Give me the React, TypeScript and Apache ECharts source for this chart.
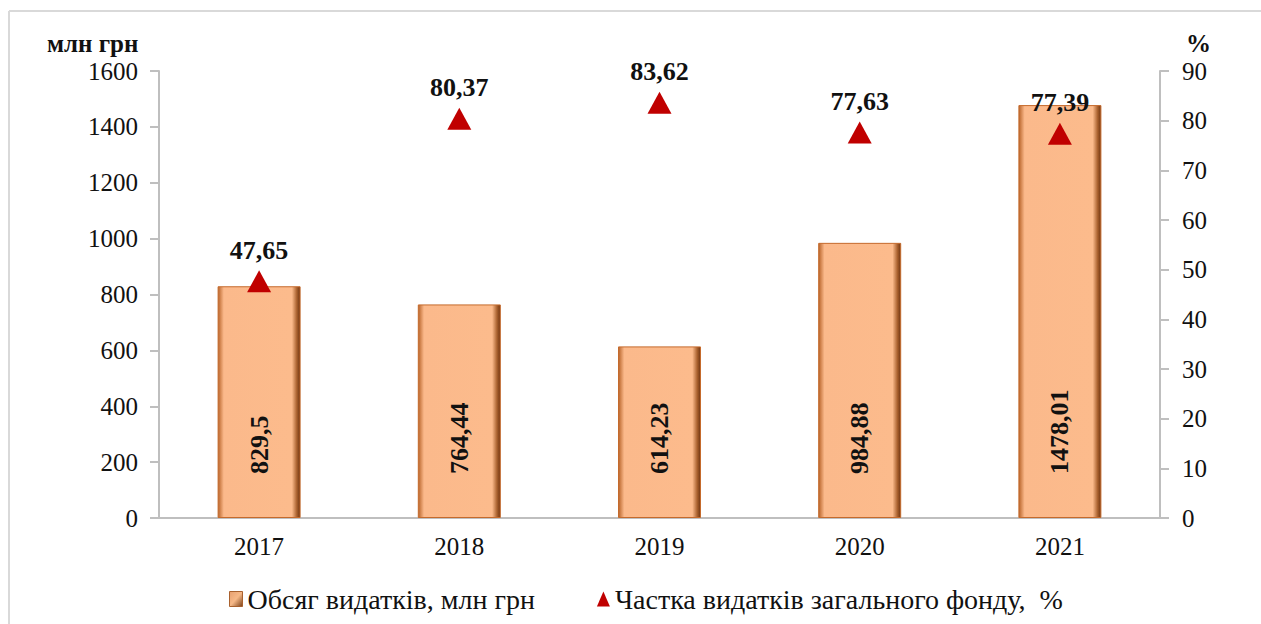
import React, { useEffect, useRef } from "react";
import * as echarts from "echarts";

const years = ["2017", "2018", "2019", "2020", "2021"];
const spending = [829.5, 764.44, 614.23, 984.88, 1478.01];
const generalShare = [47.65, 80.37, 83.62, 77.63, 77.39];
const barName = "Обсяг видатків, млн грн";
const shareName = "Частка видатків загального фонду,  %";
const leftUnit = "млн грн";
const rightUnit = "%";

const FONT = "'Liberation Serif', 'Times New Roman', serif";
const fmt = (v: number) => String(v).replace(".", ",");

export default function App() {
  const ref = useRef<HTMLDivElement>(null);
  useEffect(() => {
    if (!ref.current) return;
    const chart = echarts.init(ref.current, undefined, { renderer: "svg" });
    const barGradient = new echarts.graphic.LinearGradient(0, 0, 1, 0, [
      { offset: 0, color: "#b8642a" },
      { offset: 0.07, color: "#fbb98b" },
      { offset: 0.9, color: "#fcbb8c" },
      { offset: 0.96, color: "#a9612e" },
      { offset: 1, color: "#6e3411" },
    ]);
    const legendGradient = new echarts.graphic.LinearGradient(0, 0, 1, 1, [
      { offset: 0, color: "#e6a070" },
      { offset: 0.5, color: "#f6b887" },
      { offset: 1, color: "#7a4018" },
    ]);
    chart.setOption({
      animation: false,
      backgroundColor: "#ffffff",
      textStyle: { fontFamily: FONT },
      grid: { left: 159, right: 101, top: 71, bottom: 106, containLabel: false },
      graphic: [
        { type: "line", shape: { x1: 9, y1: 11, x2: 1261, y2: 11 }, style: { stroke: "#d9d9d9", lineWidth: 2 } },
        { type: "line", shape: { x1: 9, y1: 11, x2: 9, y2: 624 }, style: { stroke: "#d9d9d9", lineWidth: 2 } },
        { type: "text", left: 47, top: 31, style: { text: leftUnit, font: `bold 25px ${FONT}`, fill: "#111" } },
        { type: "text", left: 1186, top: 31, style: { text: rightUnit, font: `bold 25px ${FONT}`, fill: "#111" } },
      ],
      legend: {
        bottom: 6,
        left: 224,
        itemGap: 62,
        itemWidth: 13,
        itemHeight: 15,
        textStyle: { fontFamily: FONT, fontSize: 28, color: "#111" },
        data: [
          { name: barName, icon: "rect", itemStyle: { color: legendGradient, borderColor: "#a9612e", borderWidth: 1 } },
          { name: shareName, icon: "triangle", itemStyle: { color: "#c00000" } },
        ],
      },
      xAxis: {
        type: "category",
        data: years,
        axisLine: { lineStyle: { color: "#bfbfbf", width: 2 } },
        axisTick: { show: false },
        axisLabel: { fontFamily: FONT, fontSize: 25, color: "#111", margin: 16 },
      },
      yAxis: [
        {
          type: "value",
          min: 0,
          max: 1600,
          interval: 200,
          position: "left",
          splitLine: { show: false },
          axisLine: { show: true, lineStyle: { color: "#bfbfbf", width: 2 } },
          axisTick: { show: true, length: 9, lineStyle: { color: "#bfbfbf", width: 2 } },
          axisLabel: { fontFamily: FONT, fontSize: 25, color: "#111", margin: 21, formatter: (v: number) => String(v) },
        },
        {
          type: "value",
          min: 0,
          max: 90,
          interval: 10,
          position: "right",
          splitLine: { show: false },
          axisLine: { show: true, lineStyle: { color: "#bfbfbf", width: 2 } },
          axisTick: { show: true, length: 9, lineStyle: { color: "#bfbfbf", width: 2 } },
          axisLabel: { fontFamily: FONT, fontSize: 25, color: "#111", margin: 22 },
        },
      ],
      series: [
        {
          name: barName,
          type: "bar",
          yAxisIndex: 0,
          data: spending,
          barWidth: 83,
          itemStyle: { color: barGradient, borderColor: "#c56a2c", borderWidth: 1 },
          label: {
            show: true,
            position: "insideBottom",
            distance: 44,
            rotate: 90,
            align: "left",
            verticalAlign: "middle",
            formatter: (p: any) => fmt(p.value),
            fontFamily: FONT,
            fontSize: 26,
            fontWeight: "bold",
            color: "#111",
          },
        },
        {
          name: shareName,
          type: "line",
          yAxisIndex: 1,
          data: generalShare,
          symbol: "triangle",
          symbolSize: [24, 22],
          lineStyle: { width: 0, opacity: 0 },
          itemStyle: { color: "#c00000" },
          label: {
            show: true,
            position: "top",
            distance: 7,
            formatter: (p: any) => fmt(p.value),
            fontFamily: FONT,
            fontSize: 26,
            fontWeight: "bold",
            color: "#111",
          },
          z: 5,
        },
      ],
    });
    return () => chart.dispose();
  }, []);
  return (
    <div
      ref={ref}
      style={{ position: "fixed", left: 0, top: 0, width: 1261, height: 624 }}
    />
  );
}
